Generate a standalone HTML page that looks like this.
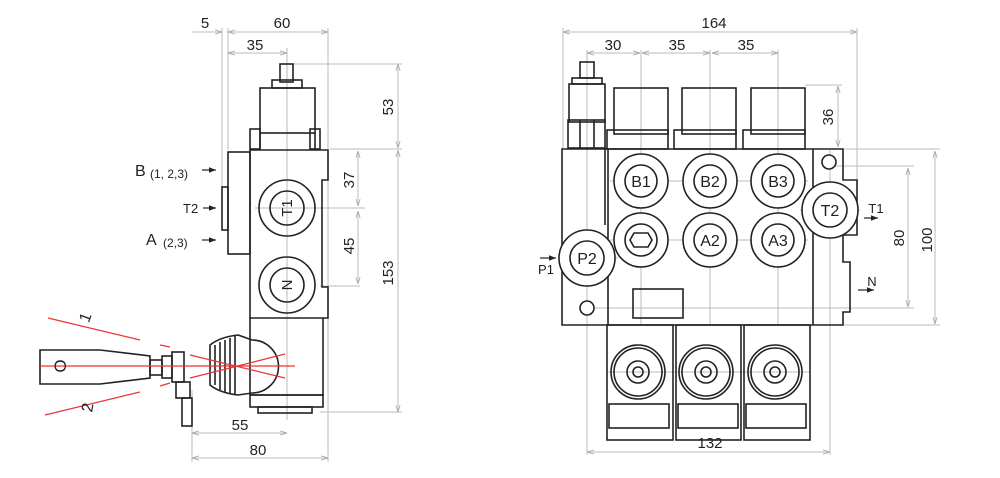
<!DOCTYPE html>
<html><head><style>
body{margin:0;background:#fff}
svg{display:block}
text{font-family:"Liberation Sans",sans-serif;fill:#222}
</style></head><body>
<svg width="1000" height="478" viewBox="0 0 1000 478" xmlns="http://www.w3.org/2000/svg">
<defs>
<marker id="a" viewBox="0 0 10 10" refX="10" refY="5" markerWidth="7" markerHeight="7" orient="auto-start-reverse"><path d="M0,2 L10,5 L0,8" fill="none" stroke="#aaa" stroke-width="1.2"/></marker>
<marker id="b" viewBox="0 0 10 10" refX="10" refY="5" markerWidth="6" markerHeight="6" orient="auto"><path d="M0,1 L10,5 L0,9z" fill="#222"/></marker>
</defs>
<g stroke="#bbb" stroke-width="1" fill="none">
<line x1="192" y1="32" x2="222" y2="32" marker-end="url(#a)"/>
<line x1="228" y1="32" x2="328" y2="32" marker-start="url(#a)" marker-end="url(#a)"/>
<line x1="228" y1="53" x2="287" y2="53" marker-start="url(#a)" marker-end="url(#a)"/>
<line x1="222" y1="28" x2="222" y2="230"/><line x1="228" y1="28" x2="228" y2="150"/>
<line x1="328" y1="28" x2="328" y2="462"/>
<line x1="287" y1="48" x2="287" y2="420"/>
<line x1="398" y1="64" x2="398" y2="148" marker-start="url(#a)" marker-end="url(#a)"/>
<line x1="398" y1="150" x2="398" y2="412" marker-start="url(#a)" marker-end="url(#a)"/>
<line x1="290" y1="64" x2="402" y2="64"/><line x1="330" y1="149" x2="402" y2="149"/><line x1="320" y1="412" x2="402" y2="412"/>
<line x1="358" y1="151" x2="358" y2="206" marker-start="url(#a)" marker-end="url(#a)"/>
<line x1="358" y1="211" x2="358" y2="284" marker-start="url(#a)" marker-end="url(#a)"/>
<line x1="255" y1="208" x2="365" y2="208"/><line x1="320" y1="286" x2="360" y2="286"/>
<line x1="192" y1="433" x2="287" y2="433" marker-start="url(#a)" marker-end="url(#a)"/>
<line x1="192" y1="458" x2="328" y2="458" marker-start="url(#a)" marker-end="url(#a)"/>
<line x1="192" y1="390" x2="192" y2="462"/>
<line x1="563" y1="32" x2="857" y2="32" marker-start="url(#a)" marker-end="url(#a)"/>
<line x1="587" y1="53" x2="640" y2="53" marker-start="url(#a)" marker-end="url(#a)"/>
<line x1="642" y1="53" x2="710" y2="53" marker-start="url(#a)" marker-end="url(#a)"/>
<line x1="712" y1="53" x2="778" y2="53" marker-start="url(#a)" marker-end="url(#a)"/>
<line x1="563" y1="28" x2="563" y2="150"/><line x1="857" y1="28" x2="857" y2="190"/>
<line x1="587" y1="50" x2="587" y2="455"/><line x1="641" y1="50" x2="641" y2="325"/>
<line x1="710" y1="50" x2="710" y2="325"/><line x1="778" y1="50" x2="778" y2="325"/>
<line x1="830" y1="150" x2="830" y2="455"/>
<line x1="838" y1="86" x2="838" y2="147" marker-start="url(#a)" marker-end="url(#a)"/>
<line x1="805" y1="85" x2="842" y2="85"/>
<line x1="908" y1="168" x2="908" y2="307" marker-start="url(#a)" marker-end="url(#a)"/>
<line x1="935" y1="151" x2="935" y2="324" marker-start="url(#a)" marker-end="url(#a)"/>
<line x1="830" y1="149" x2="940" y2="149"/><line x1="830" y1="166" x2="914" y2="166"/>
<line x1="580" y1="308" x2="914" y2="308"/><line x1="840" y1="325" x2="940" y2="325"/>
<line x1="587" y1="452" x2="830" y2="452" marker-start="url(#a)" marker-end="url(#a)"/>
<line x1="610" y1="181" x2="808" y2="181"/><line x1="610" y1="240" x2="808" y2="240"/>
<line x1="558" y1="258" x2="618" y2="258"/><line x1="800" y1="210" x2="860" y2="210"/>
<line x1="607" y1="372" x2="810" y2="372"/>
</g>
<g fill="#222" font-size="15" text-anchor="middle">
<text x="205" y="28">5</text><text x="282" y="28">60</text><text x="255" y="50">35</text>
<text x="240" y="430">55</text><text x="258" y="455">80</text>
<text transform="translate(393,107) rotate(-90)">53</text>
<text transform="translate(393,273) rotate(-90)">153</text>
<text transform="translate(354,180) rotate(-90)">37</text>
<text transform="translate(354,246) rotate(-90)">45</text>
<text x="714" y="28">164</text><text x="613" y="50">30</text><text x="677" y="50">35</text><text x="746" y="50">35</text>
<text transform="translate(833,117) rotate(-90)">36</text>
<text transform="translate(904,238) rotate(-90)">80</text>
<text transform="translate(932,240) rotate(-90)">100</text>
<text x="710" y="448">132</text>
</g>
<g stroke="#222" stroke-width="1.6" fill="none">
<rect x="280" y="64" width="13" height="18"/>
<rect x="272" y="80" width="30" height="8"/>
<rect x="260" y="88" width="55" height="45"/>
<rect x="250" y="129" width="10" height="20"/><rect x="310" y="129" width="10" height="20"/>
<line x1="260" y1="133" x2="260" y2="149"/><line x1="315" y1="133" x2="315" y2="149"/>
<path d="M250,150 H328 V180 H322 V287 H328 V318 H250 Z"/>
<rect x="228" y="152" width="22" height="102"/>
<rect x="222" y="187" width="6" height="43"/>
<circle cx="287" cy="208" r="28"/><circle cx="287" cy="208" r="17"/>
<circle cx="287" cy="285" r="28"/><circle cx="287" cy="285" r="17"/>
<path d="M250,318 V395 H323 V318"/>
<rect x="250" y="395" width="73" height="12"/><rect x="258" y="407" width="54" height="6"/>
<path d="M40,350 H100 L150,356 V378 L100,384 H40 Z"/>
<rect x="150" y="360" width="12" height="15"/><rect x="162" y="356" width="10" height="22"/>
<rect x="172" y="352" width="12" height="30"/>
<rect x="176" y="382" width="14" height="16"/><rect x="182" y="398" width="10" height="28"/>
<path d="M210,345 Q220,337 238,335 L252,340 A24,24 0 0 1 252,393 L238,395 Q220,393 210,385 Z"/>
<path d="M215,345 V385 M220,342 V390 M225,340 V392 M230,338 V394 M235,336 V395"/>
</g>
<g stroke="#e33" stroke-width="1.2" fill="none">
<line x1="48" y1="318" x2="140" y2="340"/><line x1="160" y1="345" x2="170" y2="347"/>
<line x1="45" y1="415" x2="140" y2="392"/><line x1="160" y1="386" x2="170" y2="383"/>
<line x1="40" y1="366" x2="295" y2="366"/>
<line x1="190" y1="355" x2="285" y2="378"/><line x1="190" y1="378" x2="285" y2="354"/>
</g>
<g font-size="15" fill="#222">
<text x="60" y="366" transform="rotate(-90 60 366)" text-anchor="middle" dy="6" font-size="17">O</text>
<text x="85" y="326" transform="rotate(-70 85 322)" font-size="16">1</text>
<text x="88" y="416" transform="rotate(-80 88 412)" font-size="16">2</text>
<text x="135" y="176" font-size="16">B</text><text x="150" y="178" font-size="12">(1, 2,3)</text>
<text x="183" y="213" font-size="13">T2</text>
<text x="146" y="245" font-size="16">A</text><text x="163" y="247" font-size="12">(2,3)</text>
<text x="287" y="213" text-anchor="middle" transform="rotate(-90 287 208)">T1</text>
<text x="287" y="290" text-anchor="middle" transform="rotate(-90 287 285)">N</text>
</g>
<g stroke="#222" stroke-width="1.2">
<line x1="202" y1="170" x2="216" y2="170" marker-end="url(#b)"/>
<line x1="203" y1="208" x2="216" y2="208" marker-end="url(#b)"/>
<line x1="202" y1="240" x2="216" y2="240" marker-end="url(#b)"/>
</g>
<g stroke="#222" stroke-width="1.6" fill="none">
<rect x="580" y="62" width="14" height="16"/><rect x="572" y="78" width="30" height="6"/>
<rect x="569" y="84" width="36" height="38"/><rect x="568" y="120" width="37" height="28"/>
<line x1="580" y1="120" x2="580" y2="148"/><line x1="594" y1="120" x2="594" y2="148"/>
<rect x="614" y="88" width="54" height="46"/><rect x="682" y="88" width="54" height="46"/><rect x="751" y="88" width="54" height="46"/>
<rect x="607" y="130" width="61" height="19"/><rect x="674" y="130" width="62" height="19"/><rect x="743" y="130" width="62" height="19"/>
<path d="M562,149 H843 V180 H857 V235 H843 V262 H850 V312 H843 V325 H562 Z"/>
<line x1="608" y1="149" x2="608" y2="325"/><line x1="813" y1="149" x2="813" y2="325"/>
<line x1="605" y1="149" x2="605" y2="225"/>
<circle cx="829" cy="162" r="7" fill="#fff"/><circle cx="587" cy="308" r="7" fill="#fff"/>
<rect x="633" y="289" width="50" height="29"/>
<rect x="607" y="325" width="66" height="115"/><rect x="676" y="325" width="65" height="115"/><rect x="744" y="325" width="66" height="115"/>
<g fill="#fff">
<circle cx="641" cy="181" r="27"/><circle cx="710" cy="181" r="27"/><circle cx="778" cy="181" r="27"/>
<circle cx="641" cy="240" r="27"/><circle cx="710" cy="240" r="27"/><circle cx="778" cy="240" r="27"/>
<circle cx="830" cy="210" r="28"/><circle cx="587" cy="258" r="28"/>
</g>
<circle cx="641" cy="181" r="16"/><circle cx="710" cy="181" r="16"/><circle cx="778" cy="181" r="16"/>
<circle cx="641" cy="240" r="16"/><circle cx="710" cy="240" r="16"/><circle cx="778" cy="240" r="16"/>
<circle cx="830" cy="210" r="17"/><circle cx="587" cy="258" r="17"/>
<path d="M634,233 H648 L652,240 L648,247 H634 L630,240 Z"/>
<circle cx="638" cy="372" r="27"/><circle cx="638" cy="372" r="24"/><circle cx="638" cy="372" r="11"/><circle cx="638" cy="372" r="5"/>
<circle cx="706" cy="372" r="27"/><circle cx="706" cy="372" r="24"/><circle cx="706" cy="372" r="11"/><circle cx="706" cy="372" r="5"/>
<circle cx="775" cy="372" r="27"/><circle cx="775" cy="372" r="24"/><circle cx="775" cy="372" r="11"/><circle cx="775" cy="372" r="5"/>
<rect x="609" y="404" width="60" height="24"/><rect x="678" y="404" width="60" height="24"/><rect x="746" y="404" width="60" height="24"/>
</g>
<g font-size="16" fill="#222" text-anchor="middle">
<text x="641" y="187">B1</text><text x="710" y="187">B2</text><text x="778" y="187">B3</text>
<text x="710" y="246">A2</text><text x="778" y="246">A3</text>
<text x="830" y="216">T2</text><text x="587" y="264">P2</text>
<text x="546" y="274" font-size="13">P1</text>
<text x="876" y="213" font-size="13">T1</text>
<text x="872" y="286" font-size="13">N</text>
</g>
<g stroke="#222" stroke-width="1.2">
<line x1="540" y1="258" x2="556" y2="258" marker-end="url(#b)"/>
<line x1="864" y1="218" x2="878" y2="218" marker-end="url(#b)"/>
<line x1="858" y1="290" x2="874" y2="290" marker-end="url(#b)"/>
</g>
</svg>
</body></html>
